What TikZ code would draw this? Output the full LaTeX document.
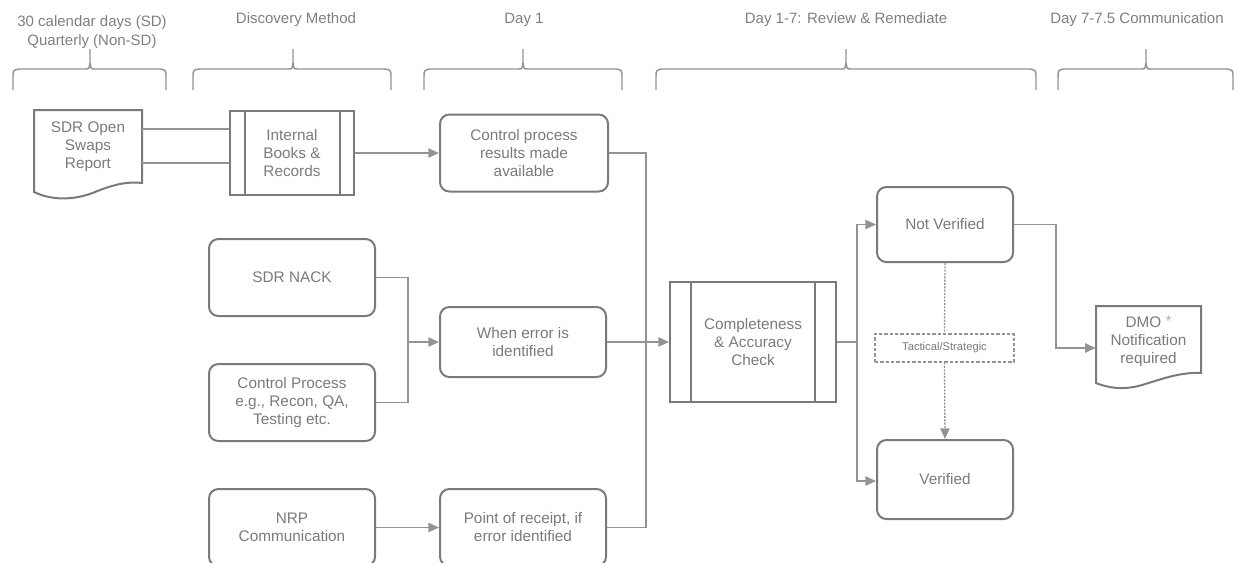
\documentclass[tikz,border=0pt]{standalone}
\usepackage{fontspec}
\setmainfont{Liberation Sans}
\usetikzlibrary{arrows.meta,calc}
\definecolor{bordc}{HTML}{7A7A7A}
\definecolor{connc}{HTML}{939393}
\definecolor{txtc}{HTML}{7A7A7A}
\definecolor{hdrc}{HTML}{7F7F7F}
\definecolor{astc}{HTML}{9DB4D0}
\newcommand\hbrace[3]{%
  \draw[brc] (#1,90) -- (#1,78) .. controls (#1,70) .. ($(#1,69)+(6,0)$) -- ($(#2,69)+(-5,0)$) .. controls ($(#2,69)+(-1,0)$) .. ($(#2,69)+(0,-6)$) -- (#2,49);
  \draw[brc] ($(#2,69)+(0,-6)$) .. controls ($(#2,69)+(1,0)$) .. ($(#2,69)+(5,0)$) -- ($(#3,69)+(-6,0)$) .. controls (#3,70) .. (#3,78) -- (#3,90);
}
\tikzset{
  lbl/.style={align=center, text=txtc, font=\fontsize{11.5}{13.5}\selectfont, inner sep=0pt},
  hdr/.style={align=center, text=hdrc, font=\fontsize{11.25}{14.5}\selectfont, inner sep=0pt},
  box/.style={lbl, draw=bordc, line width=1.5pt},
  rbox/.style={box, rounded corners=7pt},
  plain/.style={lbl},
  shapeline/.style={draw=bordc, line width=1.5pt},
  brc/.style={draw=connc, line width=1.1pt},
  conn/.style={draw=connc, line width=1pt},
  arr/.style={conn, -{Triangle[length=8pt,width=7pt]}},
  dconn/.style={draw=connc, line width=1pt, dash pattern=on 1.5pt off 1pt},
  darr/.style={dconn, -{Triangle[length=8pt,width=7pt]}},
  tacbox/.style={lbl, draw=connc, line width=0.9pt, dash pattern=on 2.5pt off 1.5pt, font=\fontsize{8.4}{10}\selectfont},
}
\begin{document}
\begin{tikzpicture}[x=0.75pt,y=-0.75pt]
\useasboundingbox (0,0) rectangle (1235,562);
\clip (0,0) rectangle (1235,562);

% headers
\node[hdr] (h1) at (92,32) {30 calendar days (SD)\\Quarterly (Non-SD)};
\node[hdr] (h2) at (296,20) {Discovery Method};
\node[hdr] (h3) at (524,20) {Day 1};
\node[hdr] (h4) at (846,20) {Day 1-7: Review \& Remediate};
\node[hdr] (h5) at (1137,20) {Day 7-7.5 Communication};

% braces
\hbrace{13}{90}{166}
\hbrace{193}{293}{391}
\hbrace{424}{523}{622}
\hbrace{656}{846}{1036}
\hbrace{1058}{1146}{1233}

% SDR Open Swaps Report (document)
\node[plain, minimum width=81pt, minimum height=54.75pt] (sdr) at (88,146.5) {SDR Open\\Swaps\\Report};
\draw[shapeline] (34,110) -- (142,110) -- (142,183) .. controls (125,181) and (110,186) .. (95,192) .. controls (78,199) and (55,202) .. (34,192) -- cycle;

% Internal Books & Records (process)
\node[box, minimum width=93pt, minimum height=63pt] (ib) at (292,153) {Internal\\Books \&\\Records};
\draw[shapeline] ([xshift=12pt]ib.north west) -- ([xshift=12pt]ib.south west);
\draw[shapeline] ([xshift=-11.25pt]ib.north east) -- ([xshift=-11.25pt]ib.south east);

\node[rbox, minimum width=126pt, minimum height=57.75pt] (cp) at (524,153) {Control process\\results made\\available};

\node[rbox, minimum width=124.5pt, minimum height=57.75pt] (nack) at (292,277.5) {SDR NACK};
\node[rbox, minimum width=124.5pt, minimum height=57.75pt] (ctrl) at (292,402.5) {Control Process\\e.g., Recon, QA,\\Testing etc.};
\node[rbox, minimum width=124.5pt, minimum height=57.75pt] (nrp) at (292,527.5) {NRP\\Communication};

\node[rbox, minimum width=124.5pt, minimum height=52.5pt] (when) at (523,342) {When error is\\identified};
\node[rbox, minimum width=124.5pt, minimum height=57.75pt] (point) at (523,527.5) {Point of receipt, if\\error identified};

% Completeness & Accuracy Check (process)
\node[box, minimum width=124.5pt, minimum height=90pt] (comp) at (753,342) {Completeness\\\& Accuracy\\Check};
\draw[shapeline] ([xshift=16.5pt]comp.north west) -- ([xshift=16.5pt]comp.south west);
\draw[shapeline] ([xshift=-16.5pt]comp.north east) -- ([xshift=-16.5pt]comp.south east);

\node[rbox, minimum width=102pt, minimum height=56.25pt] (nv) at (945,224.5) {Not Verified};
\node[rbox, minimum width=102pt, minimum height=59.25pt] (ver) at (945,479.5) {Verified};
\node[tacbox, minimum width=104.25pt, minimum height=21pt] (tac) at (944.5,348) {Tactical/Strategic};

% DMO Notification required (document)
\node[plain, minimum width=78.75pt, minimum height=52.5pt] (dmo) at (1148.5,341) {DMO {\color{astc}\raisebox{1pt}{*}}\\Notification\\required};
\draw[shapeline] (1096,306) -- (1201,306) -- (1201,373) .. controls (1180,372) and (1162,379) .. (1142,385) .. controls (1122,391) and (1106,387) .. (1096,383) -- cycle;

% connectors
\draw[conn] ($(sdr.east)+(0,-17.5)$) -- ($(ib.west)+(0,-24)$);
\draw[conn] ($(sdr.east)+(0,16.5)$) -- ($(ib.west)+(0,10)$);
\draw[arr] (ib.east) -- (cp.west);
\draw[conn] (cp.east) -- ++(37,0) |- (point.east);
\coordinate (j1) at (408,342);
\draw[conn] (nack.east) -| (j1);
\draw[conn] (ctrl.east) -| (j1);
\draw[arr] (j1) -- (when.west);
\draw[arr] (nrp.east) -- (point.west);
\draw[arr] (when.east) -- (comp.west);
\coordinate (j2) at (857,342);
\draw[conn] (comp.east) -- (j2);
\draw[arr] (j2) |- (nv.west);
\draw[arr] (j2) |- ($(ver.west)+(0,1.5)$);
\draw[dconn] (nv.south) -- (tac.north);
\draw[darr] (tac.south) -- (ver.north);
\draw[arr] (nv.east) -- ++(42,0) |- ($(dmo.west)+(0,7)$);
\end{tikzpicture}
\end{document}
